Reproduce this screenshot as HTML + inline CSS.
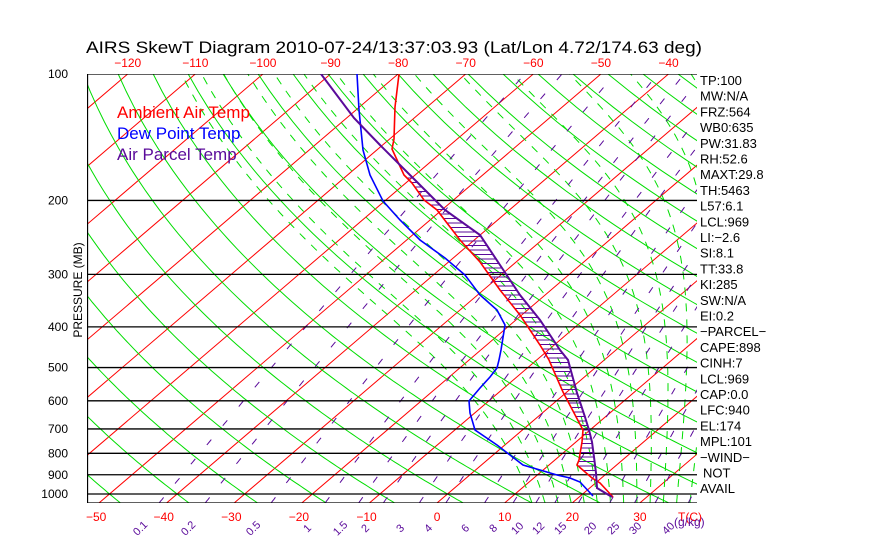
<!DOCTYPE html>
<html><head><meta charset="utf-8"><style>
body{margin:0;background:#fff;}
svg{display:block;font-family:"Liberation Sans",sans-serif;}
</style></head><body>
<svg id="s" width="870" height="560" xmlns="http://www.w3.org/2000/svg">
<defs><clipPath id="c"><rect x="87" y="74" width="610" height="429"/></clipPath></defs>
<g id="g" clip-path="url(#c)"></g>
<g id="t"></g>
</svg>
<script>
var NS="http://www.w3.org/2000/svg";
var G=document.getElementById('g'),T=document.getElementById('t');
function Y(p){return 74+182.4*Math.log(p/100);}
function X(t,p){return 437+6.76*t+1.17*(503-Y(p));}
function el(par,n,a,txt){var e=document.createElementNS(NS,n);for(var k in a)e.setAttribute(k,a[k]);if(txt!=null)e.textContent=txt;par.appendChild(e);return e;}
function poly(par,pts,col,w,dash){var d=pts.map(function(q){return q[0].toFixed(1)+','+q[1].toFixed(1)}).join(' ');var a={points:d,fill:'none',stroke:col,'stroke-width':w};if(dash)a['stroke-dasharray']=dash;el(par,'polyline',a);}
for(var t=-160;t<=50;t+=10){poly(G,[[X(t,1050),Y(1050)],[X(t,100),Y(100)]],'#ff0000',1);}
for(var th=193.15;th<=523.15;th+=10){var pts=[];for(var p=1050;p>=100;p-=10){pts.push([X(th*Math.pow(p/1000,0.286)-273.15,p),Y(p)]);}poly(G,pts,'#00dd00',1);}
function es(t){return 6.112*Math.exp(17.67*t/(t+243.5));}
function dT(Tk,p){var e=es(Tk-273.15);var rs=0.622*e/(p-e);return (1/p)*(287*Tk+2.5e6*rs)/(1004+2.5e6*2.5e6*rs*0.622/(287*Tk*Tk));}
for(var tw=12;tw<=40;tw+=2){var pts=[],T0=tw+273.15,p;
 var down=[];var Tk=T0;for(p=1000;p<=1050;p+=5){down.push([X(Tk-273.15,p),Y(p)]);Tk+=dT(Tk,p)*5;}
 Tk=T0;for(p=1000;p>=100;p-=5){pts.push([X(Tk-273.15,p),Y(p)]);Tk-=dT(Tk,p)*5;}
 poly(G,down.reverse().concat(pts),'#00dd00',1,'8,8');}
var ws=[0.1,0.2,0.5,1,1.5,2,3,4,6,8,10,12,15,20,25,30,40];
function tdw(w,p){var e=w*p/(622+w);var l=Math.log(e/6.112);return 243.5*l/(17.67-l);}
ws.forEach(function(w){var pts=[];for(var p=1050;p>=100;p-=10)pts.push([X(tdw(w,p),p),Y(p)]);poly(G,pts,'#5a0a9a',1,'7,18');});
[100,200,300,400,500,600,700,800,900,1000].forEach(function(p){el(G,'line',{x1:87,x2:697,y1:Y(p),y2:Y(p),stroke:'#000','stroke-width':1.3});});
el(G,'line',{x1:87,x2:697,y1:503,y2:503,stroke:'#000','stroke-width':1.3});
el(G,'line',{x1:87.5,x2:87.5,y1:74,y2:503,stroke:'#000','stroke-width':1.3});
var temp=[[399,74],[395,107],[394,139],[392,149],[404,175],[412,183],[424,200],[437,210],[460,240],[480,262],[500,290],[520,315],[540,345],[549,360],[563,392],[583,430],[582,442],[579,460],[577,465],[592,478],[600,483],[613,497]];
var dew=[[357,74],[359,110],[363,150],[370,175],[383,201],[400,220],[420,240],[445,258],[465,275],[480,295],[497,310],[505,325],[501,350],[499,360],[497,368],[490,377],[480,388],[469,401],[470,413],[475,430],[497,445],[510,455],[523,465],[557,475],[570,478],[580,482],[593,496]];
var par=[[321,74],[354,118],[380,145],[410,175],[430,195],[445,210],[480,235],[500,265],[520,295],[540,320],[560,350],[568,360],[577,393],[585,417],[589,430],[592,442],[594,457],[596,473],[597,488],[612,497]];
function ix(c,y){for(var i=0;i<c.length-1;i++){if(y>=c[i][1]&&y<=c[i+1][1]){var f=(y-c[i][1])/((c[i+1][1]-c[i][1])||1);return c[i][0]+f*(c[i+1][0]-c[i][0]);}}return null;}
for(var y=178;y<=476;y+=4.5){var a=ix(temp,y),b=ix(par,y);if(a!=null&&b!=null&&b>a)el(G,'line',{x1:a,x2:b,y1:y,y2:y,stroke:'#5a0a9a','stroke-width':1});}
poly(G,temp,'#ff0000',1.6);poly(G,dew,'#0000ff',1.6);poly(G,par,'#5a0a9a',2);
el(T,'text',{x:86,y:53,'font-size':17,fill:'#000',textLength:616,lengthAdjust:'spacingAndGlyphs'},'AIRS SkewT Diagram 2010-07-24/13:37:03.93 (Lat/Lon 4.72/174.63 deg)');
for(var t=-120;t<=-40;t+=10)el(T,'text',{x:X(t,100),y:67,'font-size':12,fill:'#ff0000','text-anchor':'middle'},'\u2212'+(-t));
for(var t=-50;t<=30;t+=10)el(T,'text',{x:X(t,1050)+(t<0?-3:0),y:521,'font-size':12,fill:'#ff0000','text-anchor':'middle'},t<0?'\u2212'+(-t):''+t);
el(T,'text',{x:678,y:521,'font-size':12,fill:'#ff0000'},'T(C)');
var wl=[[140,'0.1'],[188,'0.2'],[253,'0.5'],[307,'1'],[340,'1.5'],[365,'2'],[400,'3'],[428,'4'],[465,'6'],[493,'8'],[517,'10'],[538,'12'],[560,'15'],[590,'20'],[613,'25'],[635,'30'],[668,'40']];
wl.forEach(function(q){el(T,'text',{x:q[0],y:532,'font-size':11,fill:'#5a0a9a','text-anchor':'middle',transform:'rotate(-45 '+q[0]+' 528)'},q[1]);});
el(T,'text',{x:674,y:526,'font-size':12,fill:'#5a0a9a'},'(g/kg)');
[100,200,300,400,500,600,700,800,900,1000].forEach(function(p){el(T,'text',{x:68,y:Y(p)+4,'font-size':12,fill:'#000','text-anchor':'end'},''+p);});
el(T,'text',{x:82,y:290,'font-size':12,fill:'#000','text-anchor':'middle',transform:'rotate(-90 82 290)'},'PRESSURE (MB)');
el(T,'text',{x:117,y:118,'font-size':17,fill:'#ff0000'},'Ambient Air Temp');
el(T,'text',{x:117,y:139,'font-size':17,fill:'#0000ff'},'Dew Point Temp');
el(T,'text',{x:117,y:160,'font-size':17,fill:'#5a0a9a'},'Air Parcel Temp');
var R=['TP:100','MW:N/A','FRZ:564','WB0:635','PW:31.83','RH:52.6','MAXT:29.8','TH:5463','L57:6.1','LCL:969','LI:\u22122.6','SI:8.1','TT:33.8','KI:285','SW:N/A','EI:0.2','\u2212PARCEL\u2212','CAPE:898','CINH:7','LCL:969','CAP:0.0','LFC:940','EL:174','MPL:101','\u2212WIND\u2212','NOT','AVAIL'];
R.forEach(function(s,i){el(T,'text',{x:s=='NOT'?703:700,y:85+i*15.7,'font-size':13,fill:'#000'},s);});
</script>
</body></html>
